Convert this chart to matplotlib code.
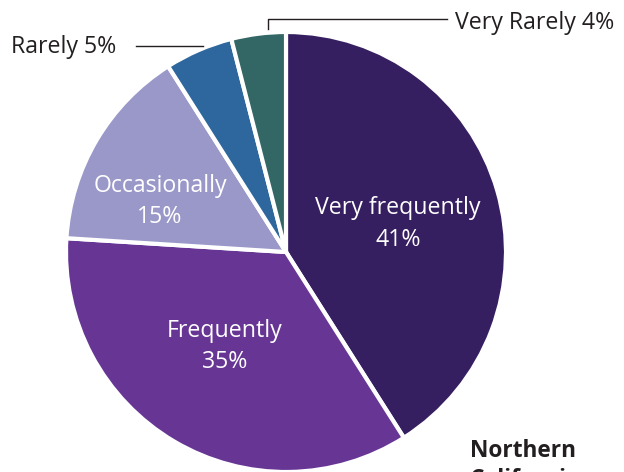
import matplotlib.pyplot as plt

# survey shares, clockwise from 12 o'clock
labels = ["Very frequently", "Frequently", "Occasionally", "Rarely", "Very Rarely"]
values = [41, 35, 15, 5, 4]
colors = ["#361f60", "#673695", "#9a98c9", "#2e679d", "#336766"]

W, H = 624, 472
fig = plt.figure(figsize=(W / 100, H / 100), dpi=100)
ax = fig.add_axes([0, 0, 1, 1])

plt.rcParams["font.family"] = ["Open Sans", "DejaVu Sans"]

cx, cy, r = 286, H - 252, 220
ax.pie(values, colors=colors, startangle=90, counterclock=False,
       center=(cx, cy), radius=r, frame=True,
       wedgeprops=dict(edgecolor="white", linewidth=3))
ax.set_xlim(0, W)
ax.set_ylim(0, H)
ax.set_aspect("equal")
ax.axis("off")

fs = 16.7
# (center x, baseline of name, baseline of percent) in pixels from top
inside = {0: (398, 214, 246), 1: (225, 337, 368), 2: (160, 192, 223)}
for i, (px, b1, b2) in inside.items():
    ax.text(px, H - b1, labels[i], color="white", ha="center",
            va="baseline", fontsize=fs)
    ax.text(px, H - b2, f"{values[i]}%", color="white", ha="center",
            va="baseline", fontsize=fs)

txt = "#231f20"
ax.text(11, H - 53, f"{labels[3]} {values[3]}%", color=txt, ha="left",
        va="baseline", fontsize=fs)
ax.plot([136, 203], [H - 46, H - 46], color=txt, lw=1)

ax.text(455, H - 29, f"{labels[4]} {values[4]}%", color=txt, ha="left",
        va="baseline", fontsize=fs)
ax.plot([268, 268, 447], [H - 29, H - 19, H - 19], color=txt, lw=1)

ax.text(470, H - 457, "Northern", color=txt, ha="left",
        va="baseline", fontsize=16.3, fontweight="bold")
ax.text(470, H - 486, "California", color=txt, ha="left",
        va="baseline", fontsize=16.3, fontweight="bold")

fig.savefig("out.png", dpi=100)
